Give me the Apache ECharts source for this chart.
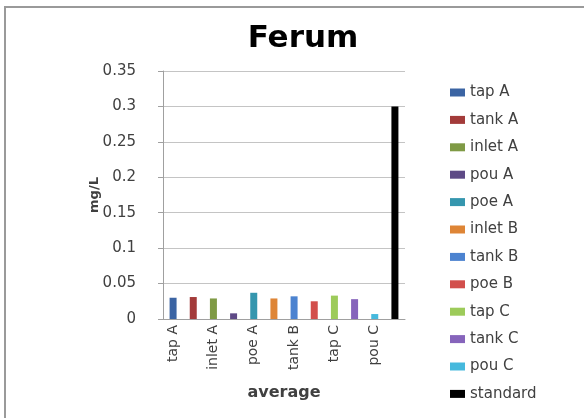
<!DOCTYPE html>
<html>
<head>
<meta charset="utf-8">
<script src="https://cdn.jsdelivr.net/npm/echarts@6/dist/echarts.min.js"></script>
<style>
  html, body { margin: 0; padding: 0; background: #fff; }
  #chart { width: 584px; height: 418px; }
</style>
</head>
<body>
<div id="chart"></div>
<script>
const categories = ['tap A', 'tank A', 'inlet A', 'pou A', 'poe A', 'inlet B',
  'tank B', 'poe B', 'tap C', 'tank C', 'pou C', 'standard']
const averages = [0.030, 0.031, 0.029, 0.008, 0.037, 0.029,
  0.032, 0.025, 0.033, 0.028, 0.007, 0.300]
const colors = ['#3b64a3', '#a33b3a', '#7f9a45', '#5e4a86', '#3596ae', '#de8536',
  '#4c83d0', '#d24f4c', '#9dcb5a', '#8664bb', '#46b9dd', '#000000']
const yTicks = [0, 0.05, 0.1, 0.15, 0.2, 0.25, 0.3, 0.35]

const font = 'DejaVu Sans'

// one series per sample so each gets its own legend entry
const series = categories.map((name, i) => ({
  name: name,
  type: 'bar',
  stack: 'all',
  barWidth: i === categories.length - 1 ? 8 : 7,
  itemStyle: { color: colors[i] },
  data: categories.map((c, j) => (j === i ? averages[i] : null))
}))

const chart = echarts.init(document.getElementById('chart'))
chart.setOption({
  animation: false,
  backgroundColor: '#fff',
  color: colors,
  title: {
    text: 'Ferum',
    left: 298,
    top: 18,
    textAlign: 'center',
    textStyle: { fontFamily: font, fontWeight: 'bold', fontSize: 31, color: '#000' }
  },
  graphic: [{
    type: 'rect',
    silent: true,
    shape: { x: 5, y: 7, width: 620, height: 440 },
    style: { fill: null, stroke: '#9a9a9a', lineWidth: 2 }
  }],
  grid: { left: 163, right: 179, top: 71, bottom: 99 },
  legend: {
    orient: 'vertical',
    left: 445,
    top: 80,
    icon: 'rect',
    itemWidth: 15,
    itemHeight: 8,
    itemGap: 12.4,
    itemTextGap: 6,
    itemStyle: { borderWidth: 0 },
    textStyle: { fontFamily: font, fontSize: 15, lineHeight: 15, color: '#404040' },
    data: categories
  },
  xAxis: {
    type: 'category',
    data: categories,
    name: 'average',
    nameLocation: 'middle',
    nameGap: 66,
    nameTextStyle: { fontFamily: font, fontWeight: 'bold', fontSize: 16, color: '#404040' },
    axisLine: { lineStyle: { color: '#a0a0a0' } },
    axisTick: { show: false },
    axisLabel: {
      interval: 1,
      rotate: 90,
      margin: 6,
      fontFamily: font,
      fontSize: 14,
      color: '#404040'
    }
  },
  yAxis: {
    type: 'value',
    min: yTicks[0],
    max: yTicks[yTicks.length - 1],
    interval: 0.05,
    name: 'mg/L',
    nameLocation: 'middle',
    nameGap: 62,
    nameMoveOverlap: false,
    nameTextStyle: { fontFamily: font, fontWeight: 'bold', fontSize: 13, color: '#404040' },
    axisLine: { show: true, lineStyle: { color: '#a0a0a0' } },
    axisTick: { show: true, length: 5, lineStyle: { color: '#a0a0a0' } },
    splitLine: { lineStyle: { color: '#c4c4c4' } },
    axisLabel: { margin: 27, fontFamily: font, fontSize: 15, color: '#404040' }
  },
  series: series
})
</script>
</body>
</html>
